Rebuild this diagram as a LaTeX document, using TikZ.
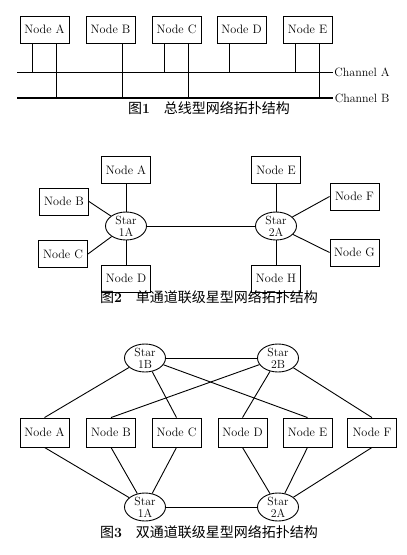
\documentclass[tikz,border=0pt]{standalone}
\usepackage{fontspec}
\newfontfamily\cjk{Noto Sans CJK SC}
\usetikzlibrary{shapes.geometric}

\begin{document}
\begin{tikzpicture}[x=1pt,y=-1pt,
  box/.style={draw,line width=0.9pt,minimum width=49pt,minimum height=27pt,inner sep=0pt,font=\fontsize{12.2}{13}\selectfont},
  star/.style={draw,ellipse,line width=0.9pt,minimum width=41pt,minimum height=28pt,inner xsep=0pt,inner ysep=-4pt,align=center,font=\fontsize{11.8}{12}\selectfont},
  link/.style={line width=0.9pt},
  chan/.style={font=\fontsize{12}{13}\selectfont,anchor=west,inner sep=1pt},
  caption/.style={font=\cjk\fontsize{14}{16}\selectfont}]
\useasboundingbox (0,0) rectangle (407,555);

\node[box] (na) at (44.5,29.5) {Node A};
\node[box] (nb) at (110.5,29.5) {Node B};
\node[box] (nc) at (176.5,29.5) {Node C};
\node[box] (nd) at (241.5,29.5) {Node D};
\node[box] (ne) at (307.5,29.5) {Node E};
\coordinate (ca0) at (17,72);
\coordinate (ca1) at (333,72);
\coordinate (cb0) at (17,98);
\coordinate (cb1) at (333,98);
\draw[link] (ca0) -- (ca1) node[chan] (la) {Channel A};
\draw[line width=1.6pt] (cb0) -- (cb1) node[chan] (lb) {Channel B};
\foreach \n in {na,nc,nd,ne}
  \draw[link] (\n.south) ++(-12pt,0) coordinate (t) -- (t |- ca0);
\foreach \n in {na,nb,nc,ne}
  \draw[link] (\n.south) ++(12pt,0) coordinate (t) -- (t |- cb0);
\node[caption] (cap1) at (209,108) {图\textbf{\rmfamily 1}\quad 总线型网络拓扑结构};

\node[box] (a2) at (126,170) {Node A};
\node[box] (b2) at (64,201.5) {Node B};
\node[box] (c2) at (63,254) {Node C};
\node[box] (d2) at (126,278.5) {Node D};
\node[box] (e2) at (276,170) {Node E};
\node[box] (f2) at (354.5,196.5) {Node F};
\node[box] (g2) at (354.5,252.5) {Node G};
\node[box] (h2) at (276,278.5) {Node H};
\node[star] (s1) at (126,226) {Star\\1A};
\node[star] (s2) at (276,226) {Star\\2A};
\draw[link] (a2) -- (s1);
\draw[link] (b2.east) -- (s1);
\draw[link] (c2.east) -- (s1);
\draw[link] (d2) -- (s1);
\draw[link] (e2) -- (s2);
\draw[link] (f2.west) -- (s2);
\draw[link] (g2.west) -- (s2);
\draw[link] (h2) -- (s2);
\draw[link] (s1) -- (s2);
\node[caption] (cap2) at (209,297) {图\textbf{\rmfamily 2}\quad 单通道联级星型网络拓扑结构};

\node[star] (s1b) at (145,358) {Star\\1B};
\node[star] (s2b) at (278,358) {Star\\2B};
\node[star] (s1a) at (145,507) {Star\\1A};
\node[star] (s2a) at (278,507) {Star\\2A};
\node[box,minimum height=29pt] (a3) at (44.5,432.5) {Node A};
\node[box,minimum height=29pt] (b3) at (111,432.5) {Node B};
\node[box,minimum height=29pt] (c3) at (176.5,432.5) {Node C};
\node[box,minimum height=29pt] (d3) at (242.5,432.5) {Node D};
\node[box,minimum height=29pt] (e3) at (307.5,432.5) {Node E};
\node[box,minimum height=29pt] (f3) at (372,432.5) {Node F};
\foreach \n/\s in {a3/s1b,c3/s1b,e3/s1b,b3/s2b,d3/s2b,f3/s2b}
  \draw[link] (\n.north) -- (\s);
\foreach \n/\s in {a3/s1a,b3/s1a,c3/s1a,d3/s2a,e3/s2a,f3/s2a}
  \draw[link] (\n.south) -- (\s);
\draw[link] (s1b) -- (s2b);
\draw[link] (s1a) -- (s2a);
\node[caption] (cap3) at (209,532) {图\textbf{\rmfamily 3}\quad 双通道联级星型网络拓扑结构};
\end{tikzpicture}
\end{document}
